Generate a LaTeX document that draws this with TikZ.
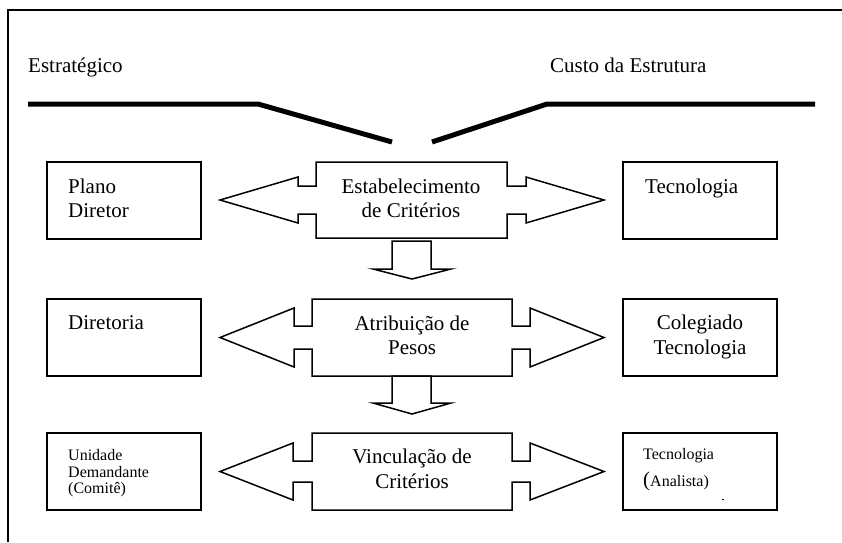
\documentclass[tikz,border=0pt]{standalone}
\usepackage{fontspec}
\setmainfont{Liberation Serif}
\begin{document}
\begin{tikzpicture}[x=1pt,y=-1pt,
  boxline/.style={draw, line width=1.6pt},
  arrowline/.style={draw, line width=1.5pt, line join=miter, fill=white},
  big/.style={inner sep=0pt, font=\fontsize{21}{24}\selectfont},
  small/.style={inner sep=0pt, font=\fontsize{16}{17}\selectfont},
  thick bar/.style={line width=5pt, line join=bevel}]
\useasboundingbox (0,0) rectangle (842,542);
% frame
\draw[line width=1.5pt] (842,10) -- (8,10) -- (8,542);
% top labels and bars
\node[big, anchor=base west] (estr) at (28,72) {Estratégico};
\node[big, anchor=base west] (custo) at (550,72) {Custo da Estrutura};
\draw[thick bar] (28,104) -- (258,104) -- (392,142);
\draw[thick bar] (432,142) -- (547,104) -- (815,104);
% side boxes
\draw[boxline] (47,162) rectangle (201,239);
\draw[boxline] (623,162) rectangle (777,239);
\draw[boxline] (47,299) rectangle (201,376);
\draw[boxline] (623,299) rectangle (777,376);
\draw[boxline] (47,433) rectangle (201,510);
\draw[boxline] (623,433) rectangle (777,510);
% double arrows
\draw[arrowline] (316,162) -- (507,162) -- (507,186) -- (526,186) -- (526,177) -- (604,200) -- (526,223) -- (526,214) -- (507,214) -- (507,238) -- (316,238) -- (316,214) -- (298,214) -- (298,223) -- (220,200) -- (298,177) -- (298,186) -- (316,186) -- cycle;
\draw[arrowline] (312,299) -- (512,299) -- (512,326) -- (530,326) -- (530,308) -- (604,337.5) -- (530,367) -- (530,349) -- (512,349) -- (512,376) -- (312,376) -- (312,349) -- (294,349) -- (294,367) -- (220,337.5) -- (294,308) -- (294,326) -- (312,326) -- cycle;
\draw[arrowline] (312,433) -- (512,433) -- (512,461) -- (530,461) -- (530,443) -- (604,471.5) -- (530,500) -- (530,482) -- (512,482) -- (512,510) -- (312,510) -- (312,482) -- (293,482) -- (293,500) -- (220,471.5) -- (293,443) -- (293,461) -- (312,461) -- cycle;
% down arrows
\draw[arrowline] (392,241) -- (431,241) -- (431,269) -- (451,269) -- (412,279) -- (373,269) -- (392,269) -- cycle;
\draw[arrowline] (392,376) -- (431,376) -- (431,403) -- (451,403) -- (412,414) -- (373,403) -- (392,403) -- cycle;
% texts row 1
\node[big, anchor=base west] (pl1) at (68,193) {Plano};
\node[big, anchor=base west] (pl2) at (68,217) {Diretor};
\node[big, anchor=base] (es1) at (411,193) {Estabelecimento};
\node[big, anchor=base] (es2) at (411,217) {de Critérios};
\node[big, anchor=base west] (tec1) at (645,193) {Tecnologia};
% row 2
\node[big, anchor=base west] (dir) at (68,329) {Diretoria};
\node[big, anchor=base] (at1) at (412,330) {Atribuição de};
\node[big, anchor=base] (at2) at (412,354) {Pesos};
\node[big, anchor=base] (co1) at (700,329) {Colegiado};
\node[big, anchor=base] (co2) at (700,354) {Tecnologia};
% row 3
\node[small, anchor=base west] (un1) at (68,460) {Unidade};
\node[small, anchor=base west] (un2) at (68,477) {Demandante};
\node[small, anchor=base west] (un3) at (68,493) {(Comitê)};
\node[big, anchor=base] (vi1) at (412,463) {Vinculação de};
\node[big, anchor=base] (vi2) at (412,488) {Critérios};
\node[small, anchor=base west] (tc1) at (643,459) {Tecnologia};
\node[small, anchor=base west] (tc2) at (643,486) {{\fontsize{21}{24}\selectfont(}Analista)};
\fill (722,498.5) rectangle (724,499.5);
\end{tikzpicture}
\end{document}
